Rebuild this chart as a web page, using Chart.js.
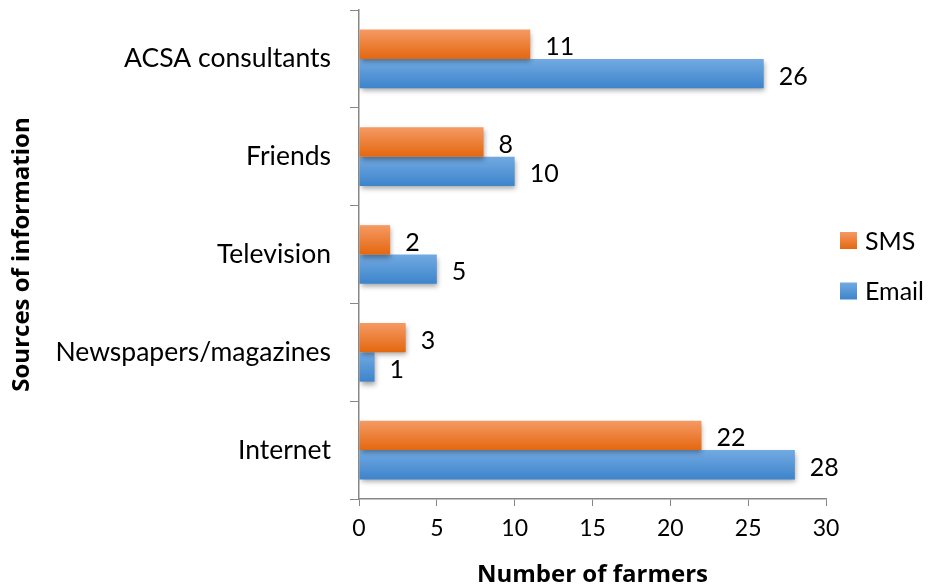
<!DOCTYPE html>
<html>
<head>
<meta charset="utf-8">
<script src="https://cdn.jsdelivr.net/npm/chart.js@4.4.0/dist/chart.umd.min.js"></script>
<style>
  html, body { margin: 0; padding: 0; background: #ffffff; }
  #wrap { width: 932px; height: 588px; position: relative; }
</style>
</head>
<body>
<div id="wrap"><canvas id="chart"></canvas></div>
<script>
// Information sources, listed top to bottom
const categories = ['ACSA consultants', 'Friends', 'Television', 'Newspapers/magazines', 'Internet'];
const smsValues = [11, 8, 2, 3, 22];
const emailValues = [26, 10, 5, 1, 28];
const xTicks = [0, 5, 10, 15, 20, 25, 30];

const FONT = 'Lato, "Open Sans", sans-serif';
const TITLE_FONT = '"Open Sans", Lato, sans-serif';
const axisGrey = '#878787';

const palette = {
  SMS:   { top: '#F59A64', bottom: '#E4670F', solid: '#EE7A2E' },
  Email: { top: '#72AAE2', bottom: '#3D84CB', solid: '#5597D8' }
};

// Vertical gradient fill per bar, plus a soft drop shadow under each bar
const barStyle = {
  id: 'barStyle',
  beforeDatasetDraw(chart, args) {
    const ctx = chart.ctx;
    const meta = args.meta;
    const colors = palette[chart.data.datasets[args.index].label];
    meta.data.forEach(el => {
      const half = el.height / 2;
      const g = ctx.createLinearGradient(0, el.y - half, 0, el.y + half);
      g.addColorStop(0, colors.top);
      g.addColorStop(1, colors.bottom);
      el.options = Object.assign({}, el.options, { backgroundColor: g });
    });
    ctx.save();
    ctx.shadowColor = 'rgba(0,0,0,0.35)';
    ctx.shadowBlur = 5;
    ctx.shadowOffsetX = 1;
    ctx.shadowOffsetY = 3;
  },
  afterDatasetDraw(chart) {
    chart.ctx.restore();
  }
};

// Value labels to the right of each bar
const valueLabels = {
  id: 'valueLabels',
  afterDatasetsDraw(chart) {
    const ctx = chart.ctx;
    ctx.save();
    ctx.font = '25px ' + FONT;
    ctx.fillStyle = '#000000';
    ctx.textAlign = 'left';
    ctx.textBaseline = 'middle';
    chart.data.datasets.forEach((ds, i) => {
      chart.getDatasetMeta(i).data.forEach((el, j) => {
        ctx.fillText(String(ds.data[j]), el.x + 15, el.y + 3);
      });
    });
    ctx.restore();
  }
};

// Legend on the right: SMS above Email
const sideLegend = {
  id: 'sideLegend',
  afterDraw(chart) {
    const ctx = chart.ctx;
    ctx.save();
    ctx.font = '25px ' + FONT;
    ctx.textBaseline = 'middle';
    ctx.textAlign = 'left';
    const items = [['SMS', 240.5], ['Email', 291]];
    items.forEach(([name, cy]) => {
      const c = palette[name];
      const g = ctx.createLinearGradient(0, cy - 8.5, 0, cy + 8.5);
      g.addColorStop(0, c.top);
      g.addColorStop(1, c.bottom);
      ctx.fillStyle = g;
      ctx.fillRect(840, cy - 8.5, 17, 17);
      ctx.fillStyle = '#000000';
      ctx.fillText(name, 865, cy + 1);
    });
    ctx.restore();
  }
};

new Chart(document.getElementById('chart'), {
  type: 'bar',
  data: {
    labels: categories,
    datasets: [
      { label: 'SMS', data: smsValues, backgroundColor: palette.SMS.solid, borderWidth: 0 },
      { label: 'Email', data: emailValues, backgroundColor: palette.Email.solid, borderWidth: 0 }
    ]
  },
  options: {
    indexAxis: 'y',
    responsive: true,
    maintainAspectRatio: false,
    animation: false,
    layout: { padding: { top: 10, right: 106, left: 0, bottom: 0 } },
    datasets: { bar: { categoryPercentage: 0.6, barPercentage: 1.0 } },
    plugins: { legend: { display: false }, tooltip: { enabled: false } },
    scales: {
      x: {
        min: 0, max: 30,
        afterBuildTicks(scale) { scale.ticks = xTicks.map(v => ({ value: v })); },
        grid: { drawOnChartArea: false, drawTicks: true, tickLength: 7, color: axisGrey },
        border: { display: true, color: axisGrey, width: 1.5 },
        ticks: { font: { family: FONT, size: 23 }, color: '#000000', padding: 9, maxRotation: 0 },
        title: { display: true, text: 'Number of farmers', font: { family: TITLE_FONT, size: 24, weight: 'bold' }, color: '#000000', padding: { top: 4, bottom: -2 } },
        afterFit(scale) { scale.height = 89; scale.paddingLeft = 0; }
      },
      y: {
        grid: { drawOnChartArea: false, drawTicks: true, tickLength: 9, offset: true, color: axisGrey },
        border: { display: true, color: axisGrey, width: 1.5 },
        ticks: { font: { family: FONT, size: 26.5 }, color: '#000000', padding: 19 },
        title: { display: true, text: 'Sources of information', font: { family: TITLE_FONT, size: 24, weight: 'bold' }, color: '#000000', padding: { top: 8, bottom: 4 } },
        afterFit(scale) { scale.width = 359; scale.paddingTop = 0; scale.paddingBottom = 0; }
      }
    }
  },
  plugins: [barStyle, valueLabels, sideLegend]
});
</script>
</body>
</html>
